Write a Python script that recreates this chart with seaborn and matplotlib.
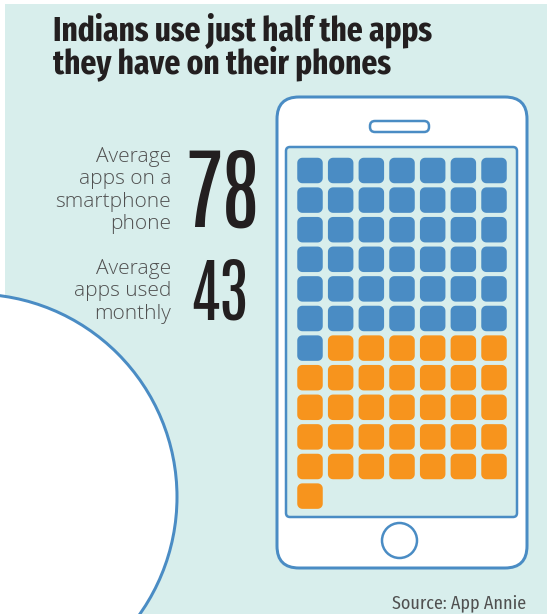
import numpy as np
import pandas as pd
import matplotlib
matplotlib.use("Agg")
import matplotlib.pyplot as plt
from matplotlib.path import Path
from matplotlib.patches import FancyBboxPatch, Circle, Rectangle
import seaborn as sns

# ---- data ----
apps_total = 78
apps_used = 43
grid_columns = 7
status_labels = ["Used monthly", "Installed, not used"]
title_lines = ["Indians use just half the apps", "they have on their phones"]
label_total = "Average\napps on a\nsmartphone\nphone"
label_used = "Average\napps used\nmonthly"
source_text = "Source: App Annie"

# ---- styles ----
BG = "#d8eeec"
BLUE = "#4a8cc4"
ORANGE = "#f7941d"
DARK = "#231f20"
GREY = "#505050"

sns.set_theme(style="white")
plt.rcParams["font.family"] = ["DejaVu Sans"]

idx = np.arange(apps_total)
df = pd.DataFrame({
    "col": idx % grid_columns,
    "row": idx // grid_columns,
    "status": np.where(idx < apps_used, status_labels[0], status_labels[1]),
})

W, H = 550, 614
fig = plt.figure(figsize=(W / 100, H / 100), dpi=100)
fig.patch.set_facecolor("white")

ax = fig.add_axes([0, 0, 1, 1])
ax.set_xlim(0, W)
ax.set_ylim(H, 0)
ax.axis("off")

px = 0.72  # points per pixel

ax.add_patch(Rectangle((5, 4), 542, 614, fc=BG, ec="none", zorder=0))
ax.add_patch(Circle((-26, 497), 203, fc="white", ec=BLUE, lw=3 * px, zorder=1))

# phone
ax.add_patch(FancyBboxPatch((277, 97), 250, 471,
                            boxstyle="round,pad=0,rounding_size=22",
                            fc="white", ec=BLUE, lw=3 * px, zorder=2))
ax.add_patch(FancyBboxPatch((370, 121), 59, 11,
                            boxstyle="round,pad=0,rounding_size=5",
                            fc="white", ec=BLUE, lw=2.5 * px, zorder=3))
ax.add_patch(FancyBboxPatch((286, 147), 231, 370,
                            boxstyle="round,pad=0,rounding_size=4",
                            fc=BG, ec=BLUE, lw=2.5 * px, zorder=3))
ax.add_patch(Circle((399.5, 540.5), 17.5, fc="white", ec=BLUE, lw=2.5 * px, zorder=3))

# title (one two-line text; baseline alignment refers to the last line)
title_font = ["Fira Sans Extra Condensed", "DejaVu Sans"]
ax.text(53, 73, "\n".join(title_lines), fontsize=24.5, fontweight="bold",
        family=title_font, color=DARK, va="baseline", ha="left", linespacing=0.86)

light = ["Open Sans", "DejaVu Sans"]
ax.text(171, 147, label_total, fontsize=15, family=light, fontweight="light",
        color=GREY, ha="right", va="top", linespacing=1.16)
ax.text(171, 259, label_used, fontsize=15, family=light, fontweight="light",
        color=GREY, ha="right", va="top", linespacing=1.16)

num_font = ["Antonio", "DejaVu Sans"]
ax.text(222, 227, str(apps_total), fontsize=64, family=num_font, fontweight="light",
        color=DARK, ha="center", va="baseline")
ax.text(219, 320, str(apps_used), fontsize=50, family=num_font, fontweight="light",
        color=DARK, ha="center", va="baseline")

ax.text(526, 608, source_text, fontsize=13, family=["Fira Sans Condensed", "DejaVu Sans"],
        fontweight="normal", color=GREY, ha="right", va="baseline")

# grid axes
pitch_x, pitch_y = 30.67, 29.6
left = 310 - pitch_x / 2
top = 170.5 - pitch_y / 2
nrows = 12
gax = fig.add_axes([left / W, 1 - (top + nrows * pitch_y) / H,
                    grid_columns * pitch_x / W, nrows * pitch_y / H])
gax.patch.set_alpha(0)
gax.set_xlim(-0.5, grid_columns - 0.5)
gax.set_ylim(nrows - 0.5, -0.5)
gax.axis("off")

# rounded square marker
r = 0.2
verts = []
for (cx, cy, a0) in [(0.5 - r, 0.5 - r, 0), (-0.5 + r, 0.5 - r, 90),
                     (-0.5 + r, -0.5 + r, 180), (0.5 - r, -0.5 + r, 270)]:
    for a in np.linspace(a0, a0 + 90, 8):
        t = np.deg2rad(a)
        verts.append((cx + r * np.cos(t), cy + r * np.sin(t)))
verts.append(verts[0])
codes = [Path.MOVETO] + [Path.LINETO] * (len(verts) - 2) + [Path.CLOSEPOLY]
rsq = Path(verts, codes)

size_px = 25.5
sns.scatterplot(data=df, x="col", y="row", hue="status",
                palette={status_labels[0]: BLUE, status_labels[1]: ORANGE},
                marker=rsq, s=(size_px * px) ** 2, linewidth=0,
                legend=False, ax=gax)
gax.set_xlabel("")
gax.set_ylabel("")

fig.savefig("out.png", dpi=100, facecolor="white")
